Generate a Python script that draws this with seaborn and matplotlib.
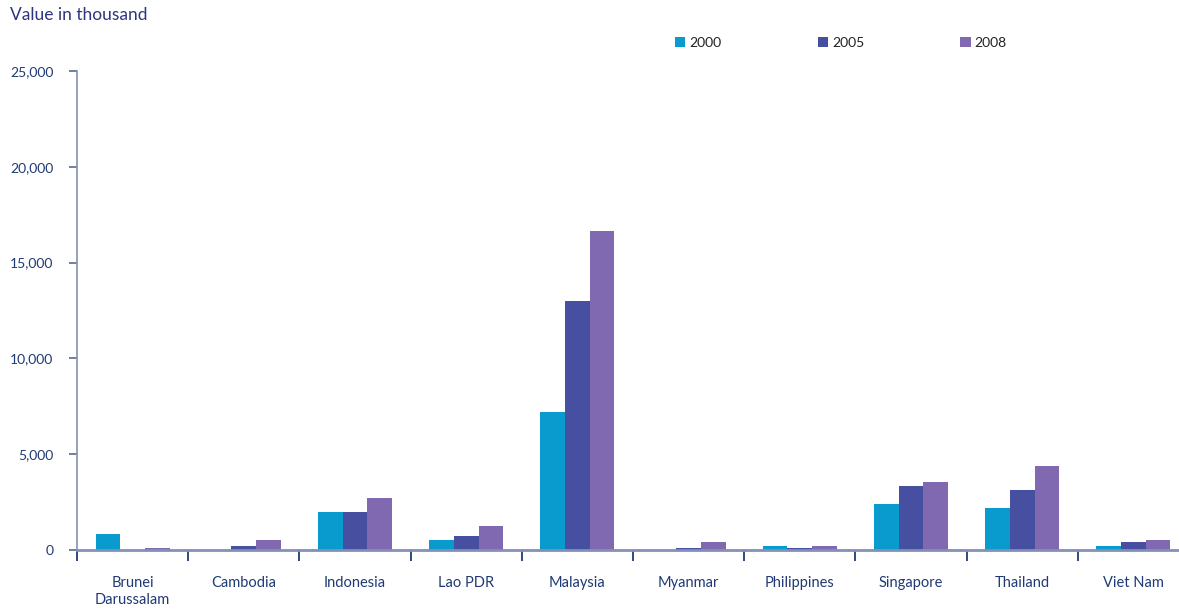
import matplotlib
matplotlib.use("Agg")
import matplotlib.pyplot as plt
import seaborn as sns
import pandas as pd
import numpy as np
from matplotlib.ticker import FuncFormatter
from matplotlib.patches import Patch

countries = ["Brunei\nDarussalam", "Cambodia", "Indonesia", "Lao PDR", "Malaysia",
             "Myanmar", "Philippines", "Singapore", "Thailand", "Viet Nam"]
years = ["2000", "2005", "2008"]
v2000 = [830, 10, 1980, 520, 7190, 10, 210, 2400, 2190, 210]
v2005 = [20, 200, 1980, 730, 13020, 100, 100, 3330, 3125, 420]
v2008 = [100, 520, 2710, 1250, 16670, 420, 190, 3540, 4375, 520]
colors = ["#0A9BCE", "#464FA0", "#8069B0"]

rows = []
for yr, vals in zip(years, [v2000, v2005, v2008]):
    for c, v in zip(countries, vals):
        rows.append({"country": c, "year": yr, "value": v})
df = pd.DataFrame(rows)

sns.set_theme(style="white")
plt.rcParams["font.family"] = ["Lato", "DejaVu Sans"]

fig = plt.figure(figsize=(11.79, 6.09), dpi=100)
ax = fig.add_axes([77 / 1179, 59 / 609, 1 - 77 / 1179, (550 - 71) / 609])

sns.barplot(data=df, x="country", y="value", hue="year", hue_order=years,
            order=countries, palette=colors, width=0.667, saturation=1,
            ax=ax, legend=False, errorbar=None, linewidth=0, edgecolor="none")

navy = "#1F3A75"
axis_col = "#8291B5"
ax.set_ylim(0, 25000)
ax.set_xlim(-0.5, -0.5 + 1102 / 111.2)
ax.set_yticks([0, 5000, 10000, 15000, 20000, 25000])
ax.yaxis.set_major_formatter(FuncFormatter(lambda v, p: f"{int(v):,}"))
ax.set_xlabel("")
ax.set_ylabel("")

for s in ["top", "right"]:
    ax.spines[s].set_visible(False)
ax.spines["left"].set_color(axis_col)
ax.spines["left"].set_linewidth(1.2)
ax.spines["bottom"].set_color(axis_col)
ax.spines["bottom"].set_linewidth(2)

ax.tick_params(axis="y", direction="out", length=6, width=1.2, color="#5A6890",
               labelsize=10, labelcolor=navy, pad=11, left=True)
ax.set_xticks(range(len(countries)))
ax.set_xticklabels(countries)
ax.set_xticks(np.arange(len(countries)) - 0.5, minor=True)
ax.tick_params(axis="x", which="major", length=0, labelsize=10.5, labelcolor=navy, pad=19)
ax.tick_params(axis="x", which="minor", direction="out", length=8, width=1.3,
               color=navy, bottom=True)
ax.grid(False)

fig.text(10 / 1179, 1 - 15 / 609, "Value in thousand", fontsize=12.5, color="#2E3580",
         va="center", ha="left")

handles = [Patch(facecolor=c, edgecolor="none") for c in colors]
fig.legend(handles, years, loc="center left", bbox_to_anchor=(675 / 1179, 1 - 43 / 609),
           ncol=3, frameon=False, fontsize=10, handlelength=0.75, handleheight=0.75,
           handletextpad=0.3, columnspacing=6.9, borderaxespad=0, borderpad=0,
           labelcolor="#222222")

fig.savefig("out.png", dpi=100)
